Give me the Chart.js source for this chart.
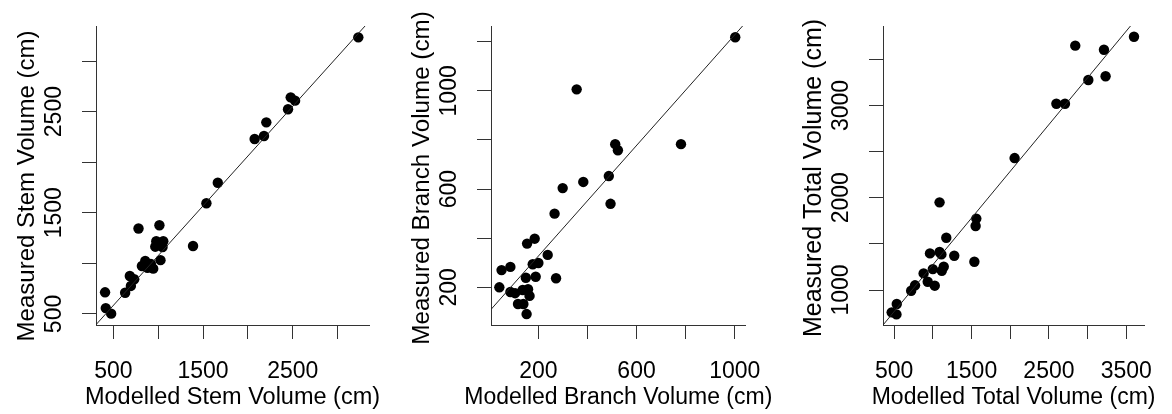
<!DOCTYPE html>
<html>
<head>
<meta charset="utf-8">
<script src="https://cdn.jsdelivr.net/npm/chart.js@4.4.1/dist/chart.umd.min.js"></script>
<style>
  html, body { margin: 0; padding: 0; background: #fff; }
  #wrap { position: relative; width: 1172px; height: 414px; overflow: hidden; }
  #wrap canvas { position: absolute; top: 0; }
</style>
</head>
<body>
<div id="wrap"></div>
<script>
// Stem volume (modelled vs measured)
var stemModelled = [3231, 2477, 2526, 2447, 2205, 2075, 2179, 1664, 1537, 1388, 780, 1013, 978, 1056, 967,
                    1048, 1025, 855, 818, 880, 944, 918, 683, 732, 695, 631, 407, 415, 475];
var stemMeasured = [3234, 2641, 2608, 2523, 2394, 2229, 2259, 1797, 1594, 1172, 1345, 1377, 1219, 1219, 1165,
                    1162, 1032, 1024, 974, 957, 948, 994, 875, 843, 777, 710, 714, 558, 503];
var stemFit = [93, 0.984];   // intercept, slope

// Branch volume
var branchModelled = [1002, 356, 781, 513, 524, 487, 494, 383, 299, 266, 185, 154, 238, 177, 200,
                      50, 86, 149, 189, 272, 41, 86, 105, 136, 158, 164, 117, 139, 152];
var branchMeasured = [1218, 1006, 783, 783, 758, 653, 540, 629, 604, 500, 398, 378, 332, 294, 299,
                      270, 283, 239, 243, 237, 200, 181, 176, 189, 192, 165, 132, 132, 91];
var branchFit = [102, 1.126];

// Total volume
var totalModelled = [3599, 2840, 3211, 3232, 3009, 2596, 2707, 2056, 1086, 1561, 1552, 1173, 962, 1086,
                     1110, 1276, 1536, 1140, 1115, 999, 880, 933, 1024, 769, 719, 533, 467, 529];
var totalMeasured = [3745, 3648, 3604, 3316, 3276, 3019, 3019, 2430, 1950, 1774, 1694, 1566, 1397, 1412,
                     1386, 1371, 1306, 1252, 1208, 1227, 1180, 1090, 1047, 1051, 992, 848, 758, 736];
var totalFit = [261, 1.013];

// tick marks and the labels R kept
var stemTicks = [500, 1000, 1500, 2000, 2500, 3000];
var stemLabels = [500, 1500, 2500];
var branchXTicks = [200, 400, 600, 800, 1000];
var branchYTicks = [200, 400, 600, 800, 1000, 1200];
var branchLabels = [200, 600, 1000];
var totalXTicks = [500, 1000, 1500, 2000, 2500, 3000, 3500];
var totalXLabels = [500, 1500, 2500, 3500];
var totalYTicks = [1000, 1500, 2000, 2500, 3000, 3500];
var totalYLabels = [1000, 2000, 3000];

var FAMILY = '"Liberation Sans", Arial, sans-serif';

Chart.defaults.font.family = FAMILY;
Chart.defaults.font.size = 23;
Chart.defaults.color = '#000';

var panels = [
    { left: 0, xs: stemModelled, ys: stemMeasured, fit: stemFit,
      xRange: [306, 3350], yRange: [391, 3346],
      xTicks: stemTicks, xLabels: stemLabels, yTicks: stemTicks, yLabels: stemLabels,
      xTitle: 'Modelled Stem Volume (cm)', yTitle: 'Measured Stem Volume (cm)',
      xSize: 23.5, ySize: 24, yMid: 186 },
    { left: 395, xs: branchModelled, ys: branchMeasured, fit: branchFit,
      xRange: [7, 1044], yRange: [46.5, 1264],
      xTicks: branchXTicks, xLabels: branchLabels, yTicks: branchYTicks, yLabels: branchLabels,
      xTitle: 'Modelled Branch Volume (cm)', yTitle: 'Measured Branch Volume (cm)',
      xSize: 23, ySize: 24.2, yMid: 178 },
    { left: 787, xs: totalModelled, ys: totalMeasured, fit: totalFit,
      xRange: [355, 3731], yRange: [621, 3861],
      xTicks: totalXTicks, xLabels: totalXLabels, yTicks: totalYTicks, yLabels: totalYLabels,
      xTitle: 'Modelled Total Volume (cm)', yTitle: 'Measured Total Volume (cm)',
      xSize: 23, ySize: 25, yMid: 178 }
];

// axis titles like R's xlab/ylab, not squeezed to the plot width
var axisTitles = {
    id: 'axisTitles',
    afterDraw: function (chart, args, opts) {
        var ctx = chart.ctx;
        var area = chart.chartArea;
        ctx.save();
        ctx.fillStyle = '#000';
        ctx.textAlign = 'center';
        ctx.textBaseline = 'alphabetic';
        ctx.font = opts.xSize + 'px ' + FAMILY;
        ctx.fillText(opts.x, (area.left + area.right) / 2, 404);
        ctx.font = opts.ySize + 'px ' + FAMILY;
        ctx.translate(area.left - 62, opts.yMid);
        ctx.rotate(-Math.PI / 2);
        ctx.fillText(opts.y, 0, 0);
        ctx.restore();
    }
};

var wrap = document.getElementById('wrap');

function fixedTicks(list) {
    return function (scale) {
        scale.ticks = list.map(function (v) { return { value: v }; });
    };
}

function labelFilter(list) {
    return function (value) {
        return list.indexOf(value) >= 0 ? String(value) : '';
    };
}

for (var i = 0; i < panels.length; i++) {
    var p = panels[i];
    var canvas = document.createElement('canvas');
    canvas.width = 385;
    canvas.height = 414;
    canvas.style.left = p.left + 'px';
    wrap.appendChild(canvas);

    var points = [];
    for (var k = 0; k < p.xs.length; k++) {
        points.push({ x: p.xs[k], y: p.ys[k] });
    }
    var fitLine = [
        { x: p.xRange[0], y: p.fit[0] + p.fit[1] * p.xRange[0] },
        { x: p.xRange[1], y: p.fit[0] + p.fit[1] * p.xRange[1] }
    ];

    var border = { display: true, color: '#333', width: 1 };
    var grid = { drawOnChartArea: false, drawTicks: true, tickLength: 14, color: '#333', lineWidth: 1 };

    new Chart(canvas.getContext('2d'), {
        type: 'scatter',
        data: {
            datasets: [{
                data: fitLine,
                showLine: true,
                borderColor: '#222',
                borderWidth: 1,
                pointRadius: 0,
                clip: 0
            }, {
                data: points,
                backgroundColor: '#000',
                borderWidth: 0,
                pointRadius: 5.2
            }]
        },
        options: {
            responsive: false,
            animation: false,
            layout: { padding: { left: 0, top: 26, right: 16, bottom: 0 } },
            plugins: {
                legend: { display: false },
                tooltip: { enabled: false },
                axisTitles: { x: p.xTitle, y: p.yTitle, xSize: p.xSize, ySize: p.ySize, yMid: p.yMid }
            },
            scales: {
                x: {
                    type: 'linear',
                    min: p.xRange[0],
                    max: p.xRange[1],
                    border: border,
                    grid: grid,
                    afterBuildTicks: fixedTicks(p.xTicks),
                    afterFit: function (s) { s.height = 89; },
                    ticks: { autoSkip: false, maxRotation: 0, padding: 19, callback: labelFilter(p.xLabels) }
                },
                y: {
                    type: 'linear',
                    min: p.yRange[0],
                    max: p.yRange[1],
                    border: border,
                    grid: grid,
                    afterBuildTicks: fixedTicks(p.yTicks),
                    afterFit: function (s) { s.width = 96; },
                    ticks: { autoSkip: false, minRotation: 90, maxRotation: 90, crossAlign: 'center',
                             padding: 2, callback: labelFilter(p.yLabels) }
                }
            }
        },
        plugins: [axisTitles]
    });
}
</script>
</body>
</html>
